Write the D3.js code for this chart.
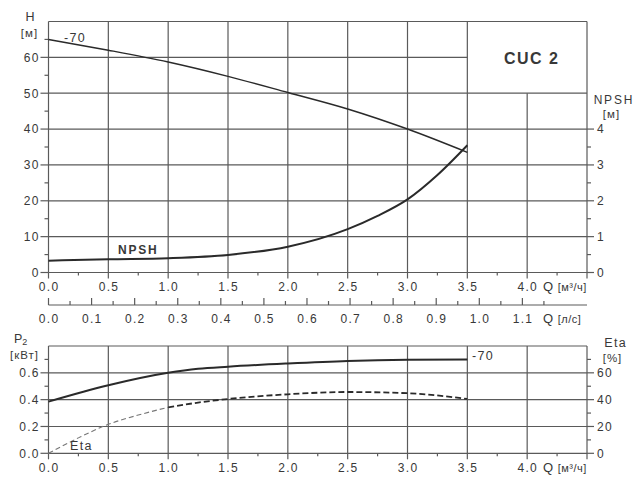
<!DOCTYPE html>
<html><head><meta charset="utf-8">
<script src="https://cdn.jsdelivr.net/npm/d3@7"></script>
<style>
body{margin:0;background:#fff;}
text{font-family:"Liberation Sans",Arial,sans-serif;fill:#383838;}
</style></head>
<body><svg id="c" width="640" height="484"></svg>
<script>
// ---- data ----
const qTicks = [0,0.5,1.0,1.5,2.0,2.5,3.0,3.5,4.0];
const qlsTicks = [0,0.1,0.2,0.3,0.4,0.5,0.6,0.7,0.8,0.9,1.0,1.1];
const hTicks = [0,10,20,30,40,50,60];
const npshTicks = [0,1,2,3,4];
const pTicks = [0,0.2,0.4,0.6];
const etaTicks = [0,20,40,60];

const hQ =   [0, 0.5, 1.0, 1.5, 2.0, 2.5, 3.0, 3.5];
const hVal = [65, 62, 58.7, 54.7, 50.2, 45.6, 40.0, 33.5];

const npshQ =   [0, 0.5, 1.0, 1.5, 2.0, 2.5, 2.75, 3.0, 3.25, 3.5];
const npshVal = [0.33, 0.37, 0.40, 0.49, 0.72, 1.21, 1.58, 2.04, 2.72, 3.55];

const pQ =   [0, 0.5, 1.0, 1.25, 1.5, 2.0, 2.5, 3.0, 3.5];
const pVal = [0.385, 0.507, 0.60, 0.63, 0.646, 0.67, 0.689, 0.698, 0.70];

const etaQ =   [0, 0.25, 0.5, 0.75, 1.0, 1.25, 1.5, 2.0, 2.5, 3.0, 3.5];
const etaVal = [0, 11.5, 21.6, 28.5, 34.3, 37.8, 40.5, 44.0, 45.7, 44.8, 40.5];

// ---- scales ----
const svg = d3.select("#c");
const x = d3.scaleLinear().domain([0,4.5]).range([48.5,587]);
const xls = d3.scaleLinear().domain([0,4.5/3.6]).range([48.5,587]);
const yH = d3.scaleLinear().domain([0,70]).range([272.5,21.5]);
const yN = d3.scaleLinear().domain([0,7]).range([272.5,21.5]);
const yP = d3.scaleLinear().domain([0,0.8]).range([453.3,346]);
const yE = d3.scaleLinear().domain([0,80]).range([453.3,346]);

const gridC = "#5a5a5a", lineC = "#2a2a2a";
const g = svg.append("g");
function ln(x1,y1,x2,y2,w,c){g.append("line").attr("x1",x1).attr("y1",y1).attr("x2",x2).attr("y2",y2).attr("stroke",c||gridC).attr("stroke-width",w||1.2);}
function tx(s,xx,yy,anchor,size,weight,ls){
  const t=g.append("text").attr("y",yy).attr("font-size",size||12).attr("font-weight",weight||"normal")
    .attr("letter-spacing",ls==null?1.3:ls).text(s);
  // manual anchoring that ignores trailing letter-spacing
  const w=t.node().getComputedTextLength()-(ls==null?1.3:ls);
  const a=anchor||"start";
  t.attr("x", a==="middle"? xx-w/2 : a==="end"? xx-w : xx);
  return t;
}

// ---- top chart grid ----
const x0=x(0), x45=x(4.5);
ln(x0,yH(70),x45,yH(70));
ln(x45,yH(70),x45,yH(0));
ln(x0,yH(70),x0,yH(0));
[0.5,1.0,1.5,2.0,2.5,3.0,3.5].forEach(q=>ln(x(q),yH(70),x(q),yH(0)));
ln(x(4.0),yH(50),x(4.0),yH(0));
[10,20,30,40,50].forEach(h=>ln(x0,yH(h),x45,yH(h)));
ln(x0,yH(60),x(3.5),yH(60));
ln(x0,yH(0),x45,yH(0));
// left ticks
hTicks.forEach(h=>{ln(x0-8,yH(h),x0,yH(h)); tx(h,x0-10,yH(h)+4.3,"end");});
d3.range(5,70,10).forEach(h=>ln(x0-4,yH(h),x0,yH(h)));
// right ticks NPSH
npshTicks.forEach(n=>{ln(x45,yN(n),x45+7,yN(n)); tx(n,x45+10,yN(n)+4.3,"start");});
[0.5,1.5,2.5,3.5].forEach(n=>ln(x45,yN(n),x45+4,yN(n)));
// bottom x ticks
qTicks.concat([4.5]).forEach(q=>ln(x(q),yH(0),x(q),yH(0)+6));
d3.range(0.25,4.5,0.5).forEach(q=>ln(x(q),yH(0),x(q),yH(0)+3));
qTicks.forEach(q=>tx(d3.format(".1f")(q),x(q),291,"middle"));
// axis titles
tx("H",30,21,"middle",12.5);
tx("[м]",29,37,"middle",11.5,"normal",1);
tx("NPSH",613,104,"middle",12,"normal",1.8);
tx("[м]",611,118,"middle",11.5,"normal",1);
tx("CUC 2",531,64,"middle",16,"bold",1.5);
function qLabel(yy,unit){const t=g.append("text").attr("x",543).attr("y",yy).attr("font-size",13).attr("letter-spacing",0.5).text("Q "); t.append("tspan").attr("font-size",11).text(unit);}
qLabel(291,"[м³/ч]");

// l/s axis
const yls=305;
ln(x0,yls,x45,yls);
qlsTicks.forEach(v=>{ln(xls(v),yls,xls(v),yls-7); tx(d3.format(".1f")(v),xls(v),323,"middle");});
d3.range(0.05,1.25,0.1).forEach(v=>ln(xls(v),yls,xls(v),yls-4));
qLabel(323,"[л/с]");

// ---- curves top ----
const lineH = d3.line().x((d,i)=>x(hQ[i])).y(d=>yH(d)).curve(d3.curveMonotoneX);
g.append("path").attr("d",lineH(hVal)).attr("fill","none").attr("stroke",lineC).attr("stroke-width",1.5);
const lineN = d3.line().x((d,i)=>x(npshQ[i])).y(d=>yN(d)).curve(d3.curveMonotoneX);
g.append("path").attr("d",lineN(npshVal)).attr("fill","none").attr("stroke",lineC).attr("stroke-width",2);
tx("-70",64,42,"start",12.5);
tx("NPSH",118,254,"start",12,"bold",1.8);

// ---- bottom chart ----
const yb0=yP(0), yb8=yP(0.8);
ln(x0,yb8,x45,yb8);
ln(x0,yb8,x0,yb0);
ln(x45,yb8,x45,yb0);
[0.5,1.0,1.5,2.0,2.5,3.0,3.5,4.0].forEach(q=>ln(x(q),yb8,x(q),yb0));
[0.2,0.4,0.6].forEach(p=>ln(x0,yP(p),x45,yP(p)));
ln(x0,yb0,x45,yb0);
pTicks.forEach(p=>{ln(x0-8,yP(p),x0,yP(p)); tx(d3.format(".1f")(p),x0-10,yP(p)+4.3,"end");});
[0.1,0.3,0.5,0.7].forEach(p=>ln(x0-4,yP(p),x0,yP(p)));
etaTicks.forEach(e=>{ln(x45,yE(e),x45+7,yE(e)); tx(e,x45+10,yE(e)+4.3,"start");});
[10,30,50,70].forEach(e=>ln(x45,yE(e),x45+4,yE(e)));
qTicks.concat([4.5]).forEach(q=>ln(x(q),yb0,x(q),yb0+6));
d3.range(0.25,4.5,0.5).forEach(q=>ln(x(q),yb0,x(q),yb0+3));
qTicks.forEach(q=>tx(d3.format(".1f")(q),x(q),472,"middle"));
qLabel(472,"[м³/ч]");
const p2=g.append("text").attr("x",14).attr("y",343).attr("font-size",12.5).text("P"); p2.append("tspan").attr("font-size",9).attr("dy",2).text("2");
tx("[кВт]",24,359,"middle",11.5,"normal",1);
tx("Eta",615,347,"middle",12.5);
tx("[%]",612,362,"middle",11.5,"normal",1);

const lineP = d3.line().x((d,i)=>x(pQ[i])).y(d=>yP(d)).curve(d3.curveMonotoneX);
g.append("path").attr("d",lineP(pVal)).attr("fill","none").attr("stroke",lineC).attr("stroke-width",2);
const etaPts = etaQ.map((q,i)=>[q,etaVal[i]]);
const lineE = d3.line().x(d=>x(d[0])).y(d=>yE(d[1])).curve(d3.curveMonotoneX);
g.append("path").attr("d",lineE(etaPts.filter(d=>d[0]<=1.0))).attr("fill","none").attr("stroke","#777").attr("stroke-width",1.1).attr("stroke-dasharray","5,3");
g.append("path").attr("d",lineE(etaPts.filter(d=>d[0]>=1.0))).attr("fill","none").attr("stroke",lineC).attr("stroke-width",1.8).attr("stroke-dasharray","6,3");
tx("-70",472,360,"start",12.5);
tx("Eta",70,450,"start",12.5);
</script></body></html>
